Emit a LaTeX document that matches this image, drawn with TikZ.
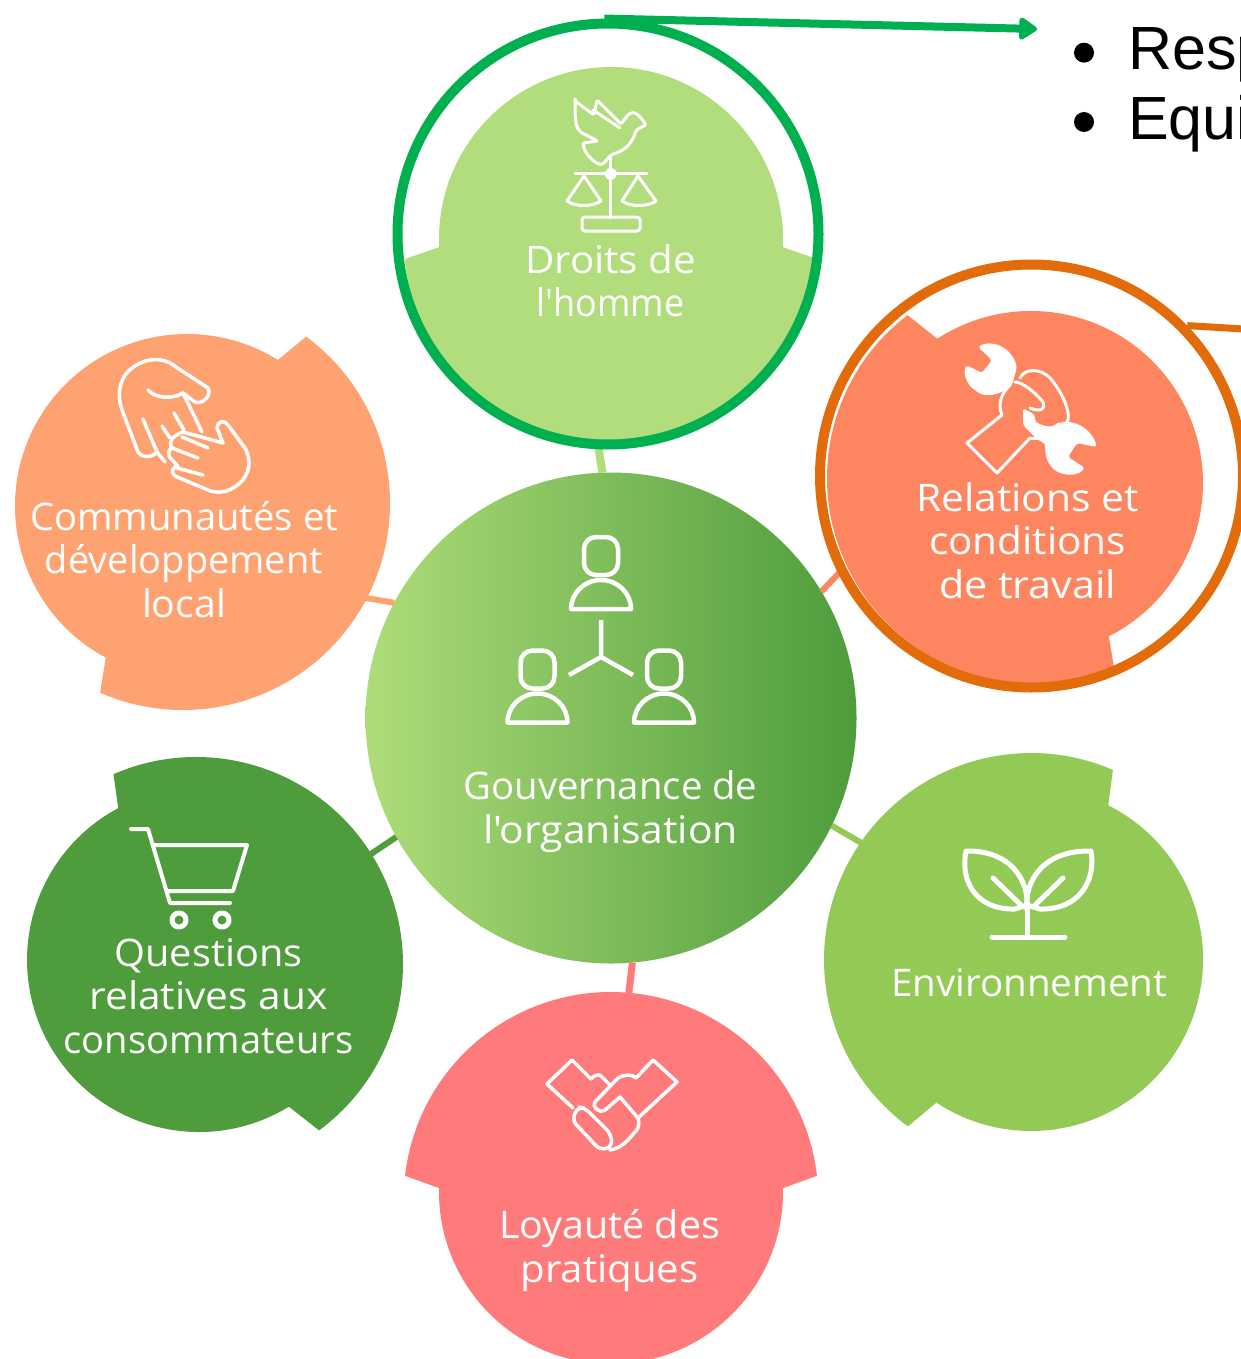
\documentclass[tikz,border=0pt]{standalone}
\usepackage{fontspec}
\usepackage{graphicx}
\usetikzlibrary{calc,arrows.meta}
\newfontfamily\labfont{Open Sans}
\newfontfamily\listfont{Liberation Sans}
\definecolor{cDroits}{HTML}{B2DD7C}
\definecolor{cRel}{HTML}{FD8660}
\definecolor{cComm}{HTML}{FFA272}
\definecolor{cQuest}{HTML}{4E9C3C}
\definecolor{cEnv}{HTML}{93CA55}
\definecolor{cLoy}{HTML}{FF7B7B}
\definecolor{cRingG}{HTML}{00B050}
\definecolor{cRingO}{HTML}{E36C0A}
\definecolor{cGovL}{HTML}{AEDC78}
\definecolor{cGovM}{HTML}{84C464}
\definecolor{cGovR}{HTML}{4E9C3C}
% small arc (c1,r1,a1,a2) then big arc (c2,r2,a3,a4)
\newcommand{\petal}[9]{\fill[#1] ($(#2)+(#4:#3)$) arc[start angle=#4,end angle=#5,radius=#3] -- ($(#6)+(#8:#7)$) arc[start angle=#8,end angle=#9,radius=#7] -- cycle;}
\newcommand{\wl}[2]{\resizebox{#1pt}{\height}{#2}}
\newcommand{\personicon}[2]{%
  \draw[icon,line width=4.5pt,rounded corners=12pt] (#1-17,#2-19) rectangle (#1+17,#2+19);
  \draw[icon,line width=4.5pt,line join=round] (#1-30,#2+53) arc[start angle=180,end angle=360,x radius=30,y radius=29] -- cycle;
}
\tikzset{
  icon/.style={draw=white,line width=3.5pt,line cap=round,line join=round},
  lab/.style={text=white,align=center,inner sep=0pt,outer sep=0pt,anchor=base,font=\labfont\fontsize{38}{43.5}\selectfont},
  link/.style={line width=#1},
  ring/.style={circle,draw=#1,line width=10pt,inner sep=0pt,fill=none},
}
\begin{document}
\begin{tikzpicture}[x=1pt,y=-1pt]
\useasboundingbox (0,0) rectangle (1241,1359);
\clip (0,0) rectangle (1241,1359);
\fill[white] (0,0) rectangle (1241,1359);

% centre
\node[circle,minimum size=491pt,inner sep=0pt,outer sep=0pt,left color=cGovL,middle color=cGovM,right color=cGovR] (gov) at (611,718) {};

% connector ends, inside the petals
\coordinate (portD) at (598,445);
\coordinate (portR) at (840,572);
\coordinate (portC) at (360,597);
\coordinate (portQ) at (365,858);
\coordinate (portE) at (865,845);
\coordinate (portL) at (628,1000);
\draw[link=8pt,cDroits] (gov.92.6) -- (portD);
\draw[link=6pt,cRel] (gov.31.2) -- (portR);
\draw[link=6pt,cComm] (gov.152) -- (portC);
\draw[link=6pt,cQuest] (gov.209) -- (portQ);
\draw[link=6pt,cEnv] (gov.-26) -- (portE);
\draw[link=7pt,cLoy] (gov.-85.6) -- (portL);

% petals
\petal{cDroits}{611,239}{172}{177.3}{362.7}{611,240}{207}{5.3}{174.7}
\petal{cRel}{1031,483}{172}{237}{423.1}{1032,478}{205}{66.5}{232.6}
\petal{cComm}{187,506}{172}{118.2}{301.9}{183,503}{207}{306.5}{473.6}
\petal{cQuest}{196,964}{207}{246.5}{413.5}{199,960}{172}{58.5}{242}
\petal{cEnv}{1031,960}{207}{126.5}{293.3}{1031,959}{172}{296.7}{483.4}
\petal{cLoy}{611,1199.3}{207.3}{186.5}{353.5}{611,1192}{172}{-1.3}{181.3}

% rings
\node[ring=cRingG,minimum size=421pt] (ringD) at (608,234) {};
\node[ring=cRingO,minimum size=423pt] (ringR) at (1031.5,476) {};

% callout connectors
\coordinate (listTop) at (1037,29);
\coordinate (listOff) at (1260,330);
\draw[cRingG,line width=8pt,-{Triangle[width=25pt,length=20pt,round]},line join=round] (ringD.91) -- (listTop);
\draw[cRingO,line width=7pt] (ringR.44) -- (listOff);

% list text
\fill (1084,52.7) circle[radius=10];
\fill (1084,122) circle[radius=10];
\node[anchor=base west,inner sep=0pt,font=\listfont\fontsize{61}{70}\selectfont] (listA) at (1128,0) {Sati};
\node[anchor=base west,inner sep=0pt,font=\listfont\fontsize{61}{70}\selectfont] (listB) at (1128,70) {Resp};
\node[anchor=base west,inner sep=0pt,font=\listfont\fontsize{61}{70}\selectfont] (listC) at (1128,140) {Equi};

% labels
\node[lab] (tD) at (610.5,316.7) {\wl{171}{Droits de}\\\wl{148}{l'homme}};
\node[lab] (tR) at (1027.5,598) {\wl{223}{Relations et}\\\wl{197}{conditions}\\\wl{177}{de travail}};
\node[lab] (tC) at (184,617) {\wl{308}{Communautés et}\\\wl{278}{développement}\\\wl{84}{local}};
\node[lab] (tQ) at (208.5,1053) {\wl{188}{Questions}\\\wl{238}{relatives aux}\\\wl{290}{consommateurs}};
\node[lab] (tG) at (610.5,843) {\wl{294}{Gouvernance de}\\\wl{255}{l'organisation}};
\node[lab] (tL) at (609.5,1282) {\wl{221}{Loyauté des}\\\wl{178}{pratiques}};
\node[lab] (tE) at (1029,996) {\wl{276}{Environnement}};

% icon: governance
\personicon{601}{556}
\personicon{537.5}{669.5}
\personicon{664}{669.5}
\draw[icon,line width=4.5pt,line cap=butt] (601,620) -- (601,657) -- (569,675);
\draw[icon,line width=4.5pt,line cap=butt] (601,657) -- (633,675);

% icon: scales and dove
\draw[icon,line width=3pt] (575,174) -- (647,174);
\draw[icon,line width=3pt] (610.7,157) -- (610.7,218);
\fill[white] (610.7,174) circle[radius=6];
\draw[icon,line width=3pt,rounded corners=3pt] (582,217) rectangle (640,231);
\draw[icon,line width=3pt] (584,176) -- (567,201) .. controls (575,207) and (592,207) .. (601,201) -- cycle;
\draw[icon,line width=3pt] (638,176) -- (622,201) .. controls (630,207) and (648,207) .. (656,201) -- cycle;
\draw[icon,line width=3pt,rounded corners=2pt] (575,101) -- (594,115) -- (597,100) -- (621,124) -- (628,115) .. controls (634,110) and (640,116) .. (646,125) -- (636,130) .. controls (632,145) and (622,152) .. (612,154) -- (602,165) .. controls (592,162) and (584,152) .. (583,143) -- (598,141) -- (582,133) .. controls (576,128) and (575,122) .. cycle;
\draw[icon,line width=3pt] (593,110) -- (620,128);

% icon: wrenches and chain
\draw[icon,line width=3pt] (1002,415) -- (967,443) -- (997,473) -- (1030,438);
\draw[icon,line width=3pt] (1030,438) -- (1040,438);
\fill[white,rounded corners=3pt] (978,347) .. controls (990,340) and (1010,345) .. (1017,367) -- (1012,385) .. controls (1000,395) and (985,398) .. (975,390) .. controls (968,385) and (963,375) .. (966,365) -- (982,373) -- (992,360) -- cycle;
\fill[white,rounded corners=3pt] (1023,408) -- (1035,415) -- (1035,422) .. controls (1042,425) and (1050,428) .. (1056,424) .. controls (1075,418) and (1092,430) .. (1097,447) -- (1077,443) -- (1068,457) -- (1085,468) .. controls (1075,478) and (1058,475) .. (1050,465) .. controls (1044,455) and (1046,445) .. (1042,442) .. controls (1035,438) and (1028,430) .. (1023,425) -- cycle;
\draw[icon,line width=3pt] (1010,385) .. controls (1000,395) and (998,405) .. (1002,415);
\draw[icon,line width=3pt] (1020,378) .. controls (1025,368) and (1040,368) .. (1050,378) .. controls (1062,392) and (1070,410) .. (1068,420) .. controls (1066,425) and (1062,426) .. (1058,424);
\draw[icon,line width=3pt] (1015,382) .. controls (1022,382) and (1035,392) .. (1043,402) .. controls (1046,410) and (1040,412) .. (1030,408);

% icon: hands
\draw[icon,line width=3.5pt] (148,390) .. controls (155,398) and (172,400) .. (183,393) -- (195,402) .. controls (202,405) and (212,396) .. (208,388) -- (170,363) .. controls (155,355) and (135,362) .. (125,375) .. controls (118,387) and (118,398) .. (122,410) -- (138,452) .. controls (142,458) and (152,458) .. (157,452) -- (165,462);
\draw[icon,line width=3.5pt] (143,419) -- (157,452);
\draw[icon,line width=3.5pt] (183,393) -- (202,432);
\draw[icon,line width=3.5pt] (162,426) -- (170,438);
\draw[icon,line width=3.5pt] (174,413) -- (184,430);
\draw[icon,line width=3.5pt] (223,443) -- (217,428) .. controls (218,420) and (225,420) .. (228,425) -- (245,448) .. controls (254,465) and (247,480) .. (233,488) .. controls (225,493) and (215,493) .. (208,490) -- (177,477) .. controls (172,475) and (171,470) .. (175,467) -- (178,466) -- (172,460) .. controls (167,455) and (168,450) .. (172,448) .. controls (168,442) and (172,436) .. (183,432) -- cycle;
\draw[icon,line width=3.5pt] (182,437) -- (208,448);
\draw[icon,line width=3.5pt] (172,448) -- (198,458);
\draw[icon,line width=3.5pt] (177,468) -- (203,475);

% icon: cart
\draw[icon,line width=4pt] (131,829) -- (148,829) -- (170,903) -- (230,903);
\draw[icon,line width=4pt] (153,845) -- (247,845) -- (233,891) -- (167,891);
\draw[icon,line width=5pt] (179,920) circle[radius=7];
\draw[icon,line width=5pt] (222,920) circle[radius=7];

% icon: handshake
\draw[icon,line width=3.5pt] (610,1085) -- (602,1077) .. controls (600,1074) and (595,1074) .. (591,1079) -- (572,1060) -- (547,1084) -- (573,1108);
\draw[icon,line width=3.5pt] (638,1118) -- (677,1082) -- (653,1060) -- (636,1078) .. controls (632,1074) and (625,1074) .. (618,1078) -- (595,1102) .. controls (592,1106) and (598,1114) .. (605,1110) -- (620,1097) -- (638,1118) .. controls (640,1125) and (638,1130) .. (634,1133) .. controls (628,1140) and (622,1148) .. (610,1150);
\draw[icon,line width=3.5pt,rounded corners=6pt] (578,1107) -- (572,1120) -- (600,1150) -- (612,1147) -- (611,1134) -- (585,1108) -- cycle;

% icon: plant
\draw[icon,line width=5pt] (992,937) -- (1065,937);
\draw[icon,line width=5pt] (1027,937) -- (1027,910);
\draw[icon,line width=5pt] (1027,910) .. controls (1030,880) and (1010,850) .. (966,851) .. controls (960,880) and (975,910) .. (1015,909) -- (1027,905);
\draw[icon,line width=5pt] (1027,910) .. controls (1024,880) and (1044,850) .. (1091,851) .. controls (1096,880) and (1080,910) .. (1040,909) -- (1027,905);
\draw[icon,line width=5pt] (993,878) -- (1023,907);
\draw[icon,line width=5pt] (1063,878) -- (1033,907);
\end{tikzpicture}
\end{document}
